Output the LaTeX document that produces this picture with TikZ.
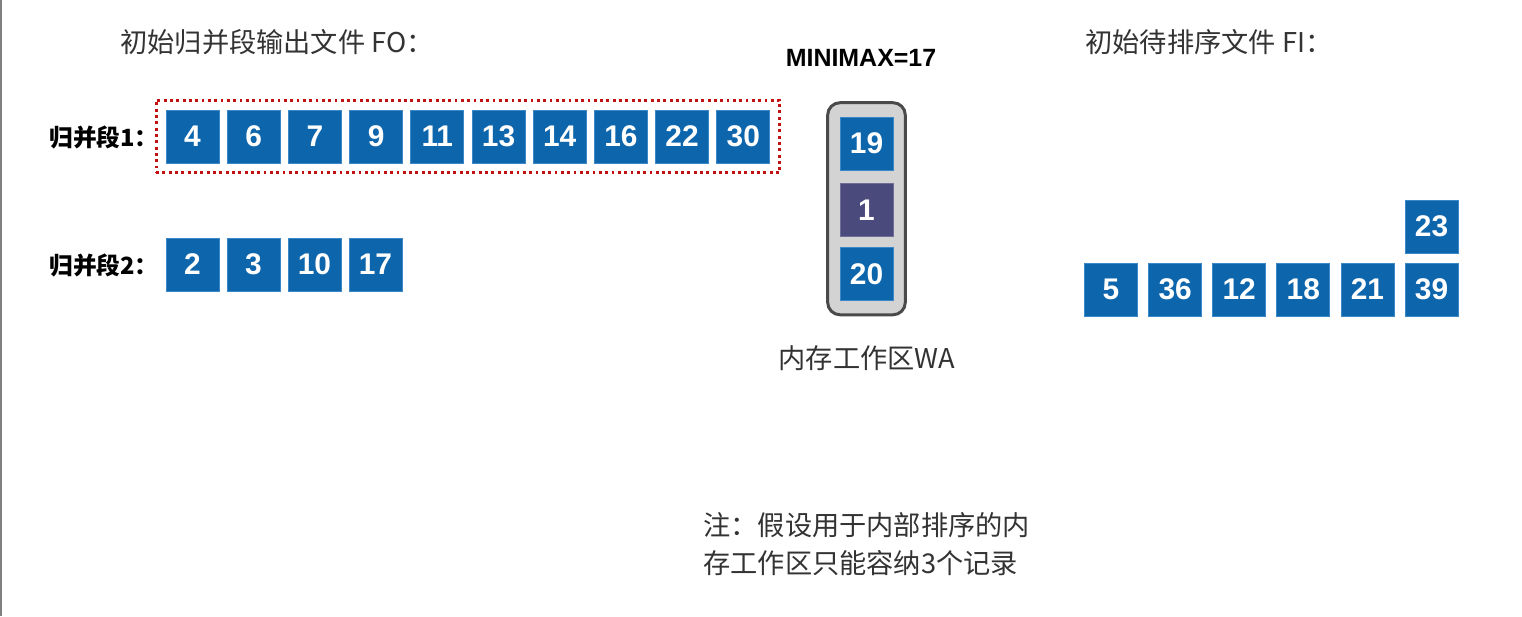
\documentclass[tikz,border=0pt]{standalone}
\usepackage{fontspec}
\setmainfont{Noto Sans CJK SC}
\newfontfamily\numfont{Liberation Sans}
\usetikzlibrary{fit,backgrounds}
\definecolor{recblue}{RGB}{13,101,172}
\definecolor{recedge}{RGB}{60,135,200}
\definecolor{minpurple}{RGB}{75,74,124}
\definecolor{wafill}{RGB}{211,211,211}
\definecolor{waedge}{RGB}{74,74,74}
\definecolor{rundot}{RGB}{196,16,16}
\begin{document}
\begin{tikzpicture}[x=0.02cm,y=-0.02cm]
\tikzset{
  rec/.style={fill=recblue, draw=recedge, line width=0.4pt, text=white,
    minimum size=1.06cm, inner sep=0pt,
    font=\numfont\bfseries\fontsize{17}{18}\selectfont},
  minrec/.style={rec, fill=minpurple, draw=minpurple!80!white},
  caption/.style={inner sep=0pt, text=black!80, font=\fontsize{15.5}{21.6}\selectfont},
  runlabel/.style={inner sep=0pt, anchor=east, font=\bfseries\fontsize{13.5}{16}\selectfont}
}
\useasboundingbox (0,0) rectangle (1522,616);
\fill[gray] (0,0) rectangle (2,616);

% output file FO
\node[caption, anchor=west] (fotitle) at (120,42) {初始归并段输出文件 FO：};
\node[runlabel] (run1) at (159,137) {归并段1：};
\node[runlabel] (run2) at (159,265) {归并段2：};
\foreach \v [count=\i] in {4,6,7,9,11,13,14,16,22,30}
  \node[rec] (a\i) at ({192.5+61.2*(\i-1)},136.5) {\v};
\foreach \v [count=\i] in {2,3,10,17}
  \node[rec] (b\i) at ({192.5+61*(\i-1)},264.5) {\v};
\node[draw=rundot, dash pattern=on 1.6pt off 2pt, line width=1.8pt,
  inner sep=0.19cm, fit=(a1)(a10)] (run1box) {};

% work area WA
\node[font=\numfont\bfseries\fontsize{14.2}{16}\selectfont, inner sep=0pt] (minimax) at (861,58) {MINIMAX=17};
\node[rec] (w1) at (866.5,143.5) {19};
\node[minrec] (w2) at (866.5,210) {1};
\node[rec] (w3) at (866.5,274) {20};
\begin{scope}[on background layer]
\node[draw=waedge, fill=wafill, line width=1.7pt, rounded corners=0.25cm,
  inner xsep=0.24cm, inner ysep=0.28cm, fit=(w1)(w3)] (wa) {};
\end{scope}
\node[caption] (walabel) at (867,358) {内存工作区WA};

% input file FI
\node[caption, anchor=west] (fititle) at (1085,42) {初始待排序文件 FI：};
\foreach \v [count=\i] in {5,36,12,18,21,39}
  \node[rec] (c\i) at ({1111+64.1*(\i-1)},289.5) {\v};
\node[rec] (c7) at (1431.5,226.5) {23};

% note
\node[caption, anchor=north west, align=left] (note) at (703,512)
  {注：假设用于内部排序的内\\存工作区只能容纳3个记录};
\end{tikzpicture}
\end{document}
